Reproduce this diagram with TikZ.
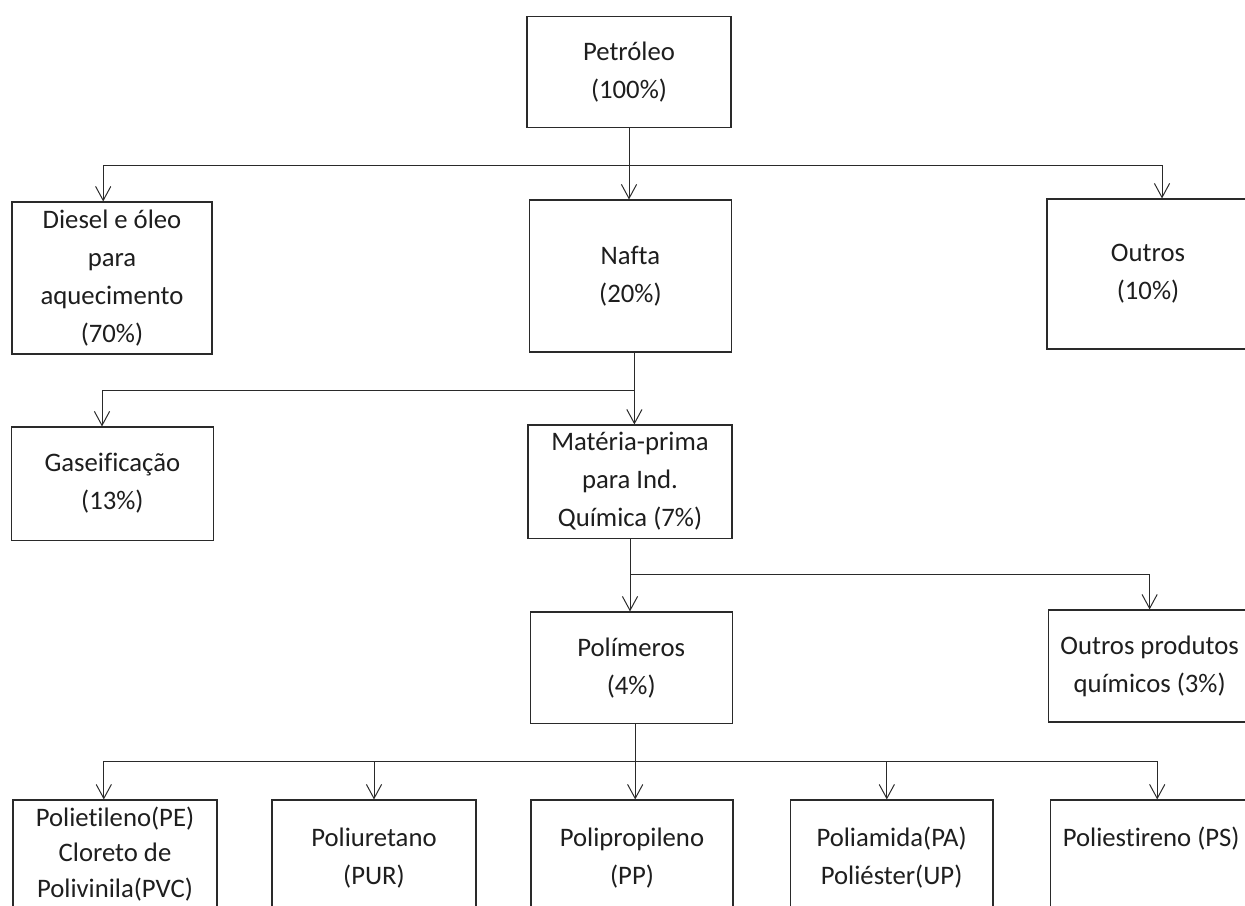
\documentclass[tikz,border=0pt]{standalone}
\usepackage{fontspec}
\setmainfont{Carlito}[Ligatures=NoCommon]
\usetikzlibrary{arrows.meta,calc}
\definecolor{inkline}{HTML}{2A2A2A}
\definecolor{inktext}{HTML}{1E1E1E}

\begin{document}
\begin{tikzpicture}[font=\fontsize{19}{27}\selectfont,
  box/.style={draw=inkline,line width=0.8pt,align=center,inner sep=4pt,text=inktext,minimum width=50.5mm},
  flow/.style={draw=inkline,line width=0.7pt},
  >={Straight Barb[length=3.5mm,width=3.8mm]}]
  \useasboundingbox[fill=white] (0,0) rectangle (31.125,-22.625);
  % first split
  \node[box,minimum width=51mm,minimum height=27.75mm] (petro) at (15.725,-1.79) {Petróleo\\(100\%)};
  \node[box,minimum width=50mm,minimum height=38mm] (diesel) at (2.8,-6.95) {Diesel e óleo\\para\\aquecimento\\(70\%)};
  \node[box,minimum height=38mm] (nafta) at (15.76,-6.9) {Nafta\\(20\%)};
  \node[box,minimum height=37.5mm] (outros) at (28.7,-6.85) {Outros\\(10\%)};
  % second split
  \node[box,minimum height=28.3mm] (gas) at (2.81,-12.09) {Gaseificação\\(13\%)};
  \node[box,minimum width=51mm,minimum height=28.3mm] (mat) at (15.75,-12.04) {Matéria-prima\\para Ind.\\Química (7\%)};
  % third split
  \node[box,minimum height=27.8mm] (poli) at (15.78,-16.69) {Polímeros\\(4\%)};
  \node[box,minimum height=28mm] (outq) at (28.74,-16.65) {Outros produtos\\químicos (3\%)};
  % polymers (cut off by the page)
  \node[box,minimum width=51mm,minimum height=27mm,font=\fontsize{19}{25.5}\selectfont] (pe) at (2.875,-21.35) {Polietileno(PE)\\Cloreto de\\Polivinila(PVC)};
  \node[box,minimum width=51mm,minimum height=29mm] (pur) at (9.35,-21.45) {Poliuretano\\(PUR)};
  \node[box,minimum height=29mm] (pp) at (15.8,-21.45) {Polipropileno\\(PP)};
  \node[box,minimum width=50.7mm,minimum height=29mm] (pa) at (22.29,-21.45) {Poliamida(PA)\\Poliéster(UP)};
  \node[box,minimum height=29mm,text depth=10.5mm] (ps) at (28.78,-21.45) {Poliestireno (PS)};
  % connectors
  \coordinate (j1) at (petro.south |- 0,-4.125);
  \coordinate (j2) at ([xshift=1mm]nafta.south |- 0,-9.75);
  \coordinate (j3) at (mat.south |- 0,-14.35);
  \coordinate (j4) at ([xshift=1mm]poli.south |- 0,-19.025);
  \draw[flow,->] (petro.south) -- (petro.south |- nafta.north);
  \draw[flow,->] (j1) -| ([xshift=-2.2mm]diesel.north);
  \draw[flow,->] (j1) -| ([xshift=3.5mm]outros.north);
  \draw[flow,->] ([xshift=1mm]nafta.south) -- (j2 |- mat.north);
  \draw[flow,->] (j2) -| ([xshift=-2.6mm]gas.north);
  \draw[flow,->] (mat.south) -- (mat.south |- poli.north);
  \draw[flow,->] (j3) -| (outq.north);
  \draw[flow,->] ([xshift=1mm]poli.south) -- (j4 |- pp.north);
  \draw[flow,->] (j4) -| ([xshift=-2.8mm]pe.north);
  \draw[flow,->] (j4) -| (pur.north);
  \draw[flow,->] (j4) -| ([xshift=-1.2mm]pa.north);
  \draw[flow,->] (j4) -| ([xshift=1.5mm]ps.north);
\end{tikzpicture}
\end{document}
